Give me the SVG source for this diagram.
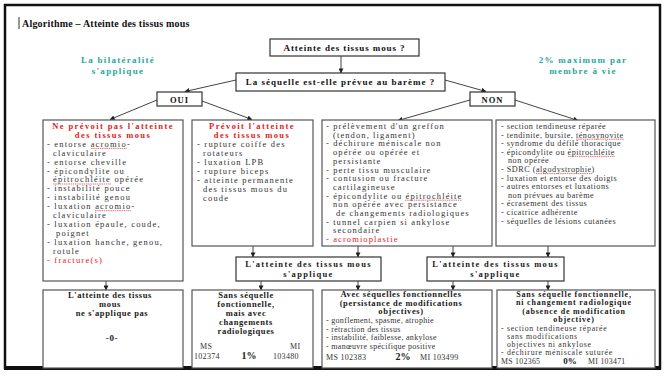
<svg xmlns="http://www.w3.org/2000/svg" width="665" height="381" viewBox="0 0 665 381">
<defs>
<marker id="ah" viewBox="0 0 6 6" refX="5.5" refY="3" markerWidth="5" markerHeight="5" orient="auto" markerUnits="userSpaceOnUse">
<path d="M0,0 L6,3 L0,6 z" fill="#222"/>
</marker>
<style>
.box{fill:#fff;stroke:#555;stroke-width:1.2}
.q{fill:#fff;stroke:#333;stroke-width:1.2}
.ln{stroke:#444;stroke-width:1;fill:none;marker-end:url(#ah)}
.ul{stroke:#d9534f;stroke-width:0.8;stroke-dasharray:1.5 0.7}
text{font-family:"Liberation Serif","Times New Roman",serif}
.l{font-size:8.5px;letter-spacing:1.2px;fill:#333}
.ld{font-size:8.2px;letter-spacing:0.5px;fill:#333}
.h{font-size:8.5px;font-weight:bold;letter-spacing:1.4px;fill:#1a1a1a;text-anchor:middle}
.hf{font-size:8.5px;font-weight:bold;letter-spacing:0.6px;fill:#1a1a1a;text-anchor:middle}
.n{font-size:8px;letter-spacing:0.3px;fill:#333}
.pct{font-size:10px;font-weight:bold;fill:#1a1a1a;text-anchor:middle}
.red{fill:#e3201b}
.teal{font-size:9px;font-weight:bold;letter-spacing:1.3px;fill:#2aa79c;text-anchor:middle}
.qt{font-size:9px;font-weight:bold;fill:#111;text-anchor:middle}
</style>
</defs>
<rect width="665" height="381" fill="#fff"/>
<rect x="5" y="5" width="655" height="363" fill="none" stroke="#111" stroke-width="2.5"/>
<line x1="4" y1="368" x2="661" y2="368" stroke="#111" stroke-width="4"/>

<g id="title">
<line x1="19" y1="17" x2="19" y2="29" stroke="#333" stroke-width="1"/>
<text x="22" y="27" style="font-size:10px;font-weight:bold;letter-spacing:0.2px;fill:#111">Algorithme – Atteinte des tissus mous</text>
</g>
<g id="note-left">
<text class="teal" x="118" y="63">La bilatéralité</text>
<text class="teal" x="118" y="74">s'applique</text>
</g>
<g id="note-right">
<text class="teal" x="583" y="63">2% maximum par</text>
<text class="teal" x="583" y="74">membre à vie</text>
</g>

<g id="connectors">
<line class="ln" x1="341" y1="56" x2="341" y2="73"/>
<line class="ln" x1="236" y1="80" x2="185" y2="91.5"/>
<line class="ln" x1="445" y1="80" x2="486" y2="91.5"/>
<line class="ln" x1="157" y1="100" x2="110" y2="119.5"/>
<line class="ln" x1="202" y1="101" x2="252" y2="119.5"/>
<line class="ln" x1="470" y1="100" x2="398" y2="120.5"/>
<line class="ln" x1="515" y1="100" x2="578" y2="120.5"/>
<line class="ln" x1="106" y1="281" x2="106" y2="290"/>
<line class="ln" x1="253" y1="246" x2="253" y2="257"/>
<line class="ln" x1="358" y1="246" x2="358" y2="257"/>
<line class="ln" x1="453" y1="246" x2="453" y2="257"/>
<line class="ln" x1="548" y1="246" x2="548" y2="257"/>
<line class="ln" x1="261" y1="281" x2="261" y2="290"/>
<line class="ln" x1="358" y1="281" x2="358" y2="290"/>
<line class="ln" x1="453" y1="281" x2="453" y2="290"/>
<line class="ln" x1="548" y1="281" x2="548" y2="290"/>
</g>

<g id="q1">
<rect class="q" x="270" y="39" width="149" height="17"/>
<text class="qt" x="344.5" y="51" style="letter-spacing:0.9px">Atteinte des tissus mous ?</text>
</g>
<g id="q2">
<rect class="q" x="236" y="73" width="209" height="18"/>
<text class="qt" x="340.5" y="85" style="letter-spacing:1px">La séquelle est-elle prévue au barème ?</text>
</g>
<g id="oui">
<rect class="q" x="157" y="92" width="45" height="14"/>
<text class="qt red" x="179.5" y="102.5" style="font-size:8.5px;letter-spacing:1px">OUI</text>
</g>
<g id="non">
<rect class="q" x="470" y="92" width="45" height="14"/>
<text class="qt red" x="492.5" y="102.5" style="font-size:8.5px;letter-spacing:1px">NON</text>
</g>

<g id="box-a">
<rect class="box" x="43" y="120" width="140" height="161"/>
<text class="h red" x="113" y="129">Ne prévoit pas l'atteinte</text>
<text class="h red" x="113" y="137.9">des tissus mous</text>
<text class="l">
<tspan x="47" y="146.8">- entorse acromio-</tspan>
<tspan x="53" y="155.7">claviculaire</tspan>
<tspan x="47" y="164.6">- entorse cheville</tspan>
<tspan x="47" y="173.5">- épicondylite ou</tspan>
<tspan x="53" y="182.4">épitrochléite opérée</tspan>
<tspan x="47" y="191.3">- instabilité pouce</tspan>
<tspan x="47" y="200.2">- instabilité genou</tspan>
<tspan x="47" y="209.1">- luxation acromio-</tspan>
<tspan x="53" y="218">claviculaire</tspan>
<tspan x="47" y="226.9">- luxation épaule, coude,</tspan>
<tspan x="56" y="235.8">poignet</tspan>
<tspan x="47" y="244.7">- luxation hanche, genou,</tspan>
<tspan x="53" y="253.6">rotule</tspan>
</text>
<text class="l red" x="47" y="262.5">- fracture(s)</text>
<line class="ul" x1="91" y1="148.4" x2="127" y2="148.4"/>
<line class="ul" x1="53" y1="184" x2="111" y2="184"/>
<line class="ul" x1="95" y1="210.7" x2="131" y2="210.7"/>
</g>

<g id="box-b">
<rect class="box" x="192" y="120" width="121" height="126"/>
<text class="h red" x="252" y="129">Prévoit l'atteinte</text>
<text class="h red" x="252" y="138">des tissus mous</text>
<text class="l">
<tspan x="197" y="147">- rupture coiffe des</tspan>
<tspan x="203" y="156">rotateurs</tspan>
<tspan x="197" y="165">- luxation LPB</tspan>
<tspan x="197" y="174">- rupture biceps</tspan>
<tspan x="197" y="183">- atteinte permanente</tspan>
<tspan x="203" y="192">des tissus mous du</tspan>
<tspan x="203" y="201">coude</tspan>
</text>
</g>

<g id="box-c">
<rect class="box" x="322" y="120" width="170" height="126"/>
<text class="l" style="letter-spacing:1.1px">
<tspan x="326" y="129">- prélèvement d'un greffon</tspan>
<tspan x="333" y="137.7">(tendon, ligament)</tspan>
<tspan x="326" y="146.4">- déchirure méniscale non</tspan>
<tspan x="333" y="155.1">opérée ou opérée et</tspan>
<tspan x="333" y="163.8">persistante</tspan>
<tspan x="326" y="172.5">- perte tissu musculaire</tspan>
<tspan x="326" y="181.2">- contusion ou fracture</tspan>
<tspan x="333" y="189.9">cartilagineuse</tspan>
<tspan x="326" y="198.6">- épicondylite ou épitrochléite</tspan>
<tspan x="333" y="207.3">non opérée avec persistance</tspan>
<tspan x="336" y="216">de changements radiologiques</tspan>
<tspan x="326" y="224.7">- tunnel carpien si ankylose</tspan>
<tspan x="333" y="233.4">secondaire</tspan>
</text>
<text class="l red" x="326" y="242.1" style="letter-spacing:1.1px">- acromioplastie</text>
<line class="ul" x1="405" y1="200.2" x2="462" y2="200.2"/>
</g>

<g id="box-d">
<rect class="box" x="496" y="120" width="159" height="126"/>
<text class="ld">
<tspan x="501" y="129">- section tendineuse réparée</tspan>
<tspan x="501" y="137.6">- tendinite, bursite, ténosynovite</tspan>
<tspan x="501" y="146.2">- syndrome du défilé thoracique</tspan>
<tspan x="501" y="154.8">- épicondylite ou épitrochléite</tspan>
<tspan x="508" y="163.4">non opérée</tspan>
<tspan x="501" y="172">- SDRC (algodystrophie)</tspan>
<tspan x="501" y="180.6">- luxation et entorse des doigts</tspan>
<tspan x="501" y="189.2">- autres entorses et luxations</tspan>
<tspan x="508" y="197.8">non prévues au barème</tspan>
<tspan x="501" y="206.4">- écrasement des tissus</tspan>
<tspan x="501" y="215">- cicatrice adhérente</tspan>
<tspan x="501" y="223.6">- séquelles de lésions cutanées</tspan>
</text>
<line class="ul" x1="576" y1="139.2" x2="624" y2="139.2"/>
<line class="ul" x1="568" y1="156.4" x2="615" y2="156.4"/>
<line class="ul" x1="536" y1="173.6" x2="592" y2="173.6"/>
</g>

<g id="applies-1">
<rect class="q" x="236" y="257" width="145" height="24"/>
<text class="h" x="308.5" y="267" style="letter-spacing:1.3px">L'atteinte des tissus mous</text>
<text class="h" x="308.5" y="277" style="letter-spacing:1.3px">s'applique</text>
</g>
<g id="applies-2">
<rect class="q" x="427" y="257" width="137" height="24"/>
<text class="h" x="495.5" y="267" style="letter-spacing:1.3px">L'atteinte des tissus mous</text>
<text class="h" x="495.5" y="277" style="letter-spacing:1.3px">s'applique</text>
</g>

<g id="result-1">
<rect class="box" x="43" y="290" width="140" height="78"/>
<text class="hf" x="110" y="298">L'atteinte des tissus</text>
<text class="hf" x="110" y="307">mous</text>
<text class="hf" x="112" y="316">ne s'applique pas</text>
<text class="hf" x="112" y="341" style="font-size:9px">-0-</text>
</g>

<g id="result-2">
<rect class="box" x="192" y="290" width="121" height="78"/>
<text class="hf" x="246" y="298">Sans séquelle</text>
<text class="hf" x="246" y="307">fonctionnelle,</text>
<text class="hf" x="246" y="316">mais avec</text>
<text class="hf" x="246" y="325">changements</text>
<text class="hf" x="246" y="334">radiologiques</text>
<text class="n" x="200" y="349">MS</text>
<text class="n" x="290" y="349">MI</text>
<text class="n" x="194" y="359">102374</text>
<text class="pct" x="249" y="359">1%</text>
<text class="n" x="273" y="359">103480</text>
</g>

<g id="result-3">
<rect class="box" x="322" y="290" width="170" height="78"/>
<text class="hf" x="401" y="297">Avec séquelles fonctionnelles</text>
<text class="hf" x="401" y="305.5">(persistance de modifications</text>
<text class="hf" x="401" y="314">objectives)</text>
<text class="n" style="letter-spacing:0.3px">
<tspan x="326" y="323">- gonflement, spasme, atrophie</tspan>
<tspan x="326" y="331.5">- rétraction des tissus</tspan>
<tspan x="326" y="340">- instabilité, faiblesse, ankylose</tspan>
<tspan x="326" y="348.5">- manœuvre spécifique positive</tspan>
</text>
<text class="n" x="326" y="360">MS 102383</text>
<text class="pct" x="403" y="360">2%</text>
<text class="n" x="420" y="360">MI 103499</text>
</g>

<g id="result-4">
<rect class="box" x="497" y="290" width="158" height="78"/>
<text class="hf" x="574" y="297" style="font-size:8px;letter-spacing:0.8px">Sans séquelle fonctionnelle,</text>
<text class="hf" x="574" y="305.4" style="font-size:8px;letter-spacing:0.8px">ni changement radiologique</text>
<text class="hf" x="574" y="313.8" style="font-size:8px;letter-spacing:0.8px">(absence de modification</text>
<text class="hf" x="574" y="322.2" style="font-size:8px;letter-spacing:0.8px">objective)</text>
<text class="n" style="font-size:7.8px;letter-spacing:0.7px">
<tspan x="501" y="330.6">- section tendineuse réparée</tspan>
<tspan x="507" y="338.8">sans modifications</tspan>
<tspan x="507" y="347">objectives ni ankylose</tspan>
<tspan x="501" y="355.2">- déchirure méniscale suturée</tspan>
</text>
<text class="n" x="501" y="364" style="font-size:7.8px">MS 102365</text>
<text class="pct" x="570" y="364" style="font-size:9px">0%</text>
<text class="n" x="588" y="364" style="font-size:7.8px">MI 103471</text>
</g>
</svg>
